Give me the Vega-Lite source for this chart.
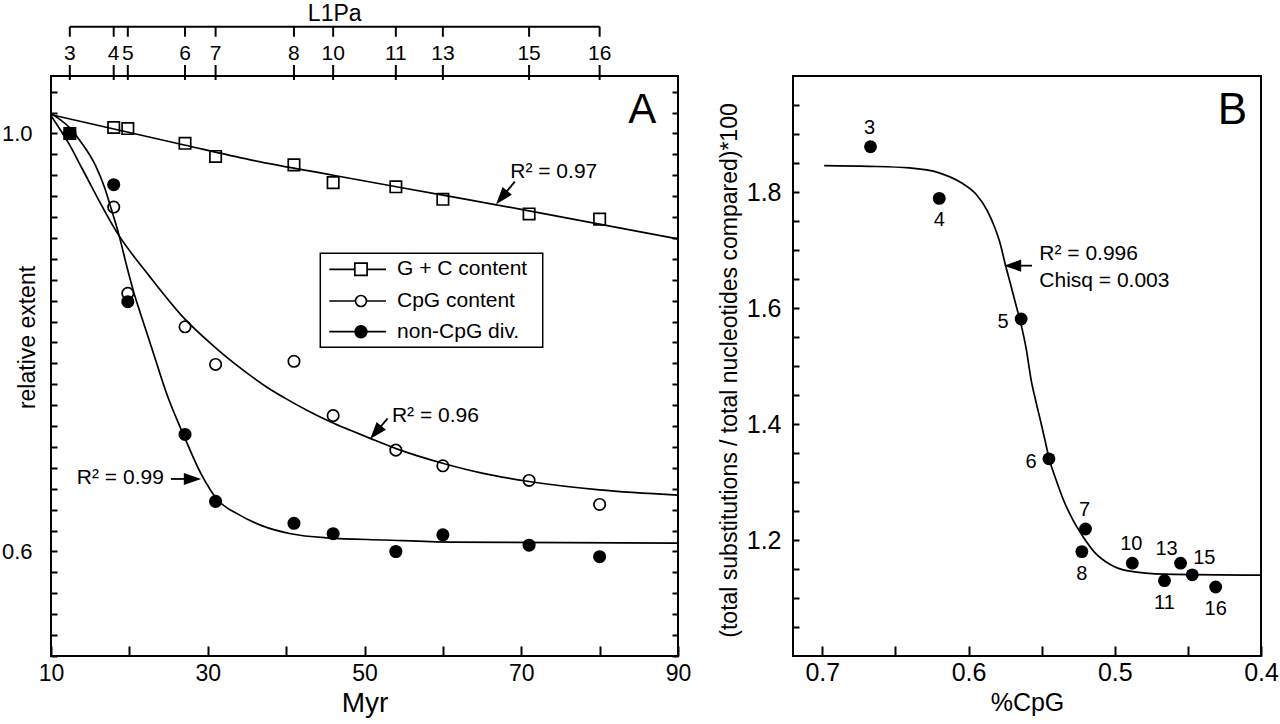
{
  "$schema": "https://vega.github.io/schema/vega-lite/v6.json",
  "background": "white",
  "padding": {"left": 0, "top": 2, "right": 0, "bottom": 0},
  "config": {
    "font": "Liberation Sans, Arial, sans-serif",
    "view": {"stroke": "black", "strokeWidth": 2},
    "axis": {
      "domain": false, "grid": false, "tickColor": "black", "tickWidth": 2, "tickCount": 100,
      "labelColor": "black", "titleColor": "black", "titleFontWeight": "normal",
      "labelFlush": false, "labelOverlap": false
    },
    "text": {"color": "black"}
  },
  "datasets": {
    "ptsA": [
      {"series": "G + C content", "myr": 12.4, "value": 1.0},
      {"series": "G + C content", "myr": 18.0, "value": 1.0057},
      {"series": "G + C content", "myr": 19.8, "value": 1.0047},
      {"series": "G + C content", "myr": 27.1, "value": 0.9906},
      {"series": "G + C content", "myr": 31.0, "value": 0.978},
      {"series": "G + C content", "myr": 41.0, "value": 0.970},
      {"series": "G + C content", "myr": 46.0, "value": 0.953},
      {"series": "G + C content", "myr": 54.0, "value": 0.949},
      {"series": "G + C content", "myr": 60.0, "value": 0.937},
      {"series": "G + C content", "myr": 71.0, "value": 0.923},
      {"series": "G + C content", "myr": 80.0, "value": 0.918},
      {"series": "CpG content", "myr": 12.4, "value": 1.0},
      {"series": "CpG content", "myr": 18.0, "value": 0.9296},
      {"series": "CpG content", "myr": 19.8, "value": 0.847},
      {"series": "CpG content", "myr": 27.1, "value": 0.815},
      {"series": "CpG content", "myr": 31.0, "value": 0.779},
      {"series": "CpG content", "myr": 41.0, "value": 0.782},
      {"series": "CpG content", "myr": 46.0, "value": 0.730},
      {"series": "CpG content", "myr": 54.0, "value": 0.697},
      {"series": "CpG content", "myr": 60.0, "value": 0.682},
      {"series": "CpG content", "myr": 71.0, "value": 0.668},
      {"series": "CpG content", "myr": 80.0, "value": 0.645},
      {"series": "non-CpG div.", "myr": 12.4, "value": 1.0},
      {"series": "non-CpG div.", "myr": 18.0, "value": 0.951},
      {"series": "non-CpG div.", "myr": 19.8, "value": 0.839},
      {"series": "non-CpG div.", "myr": 27.1, "value": 0.712},
      {"series": "non-CpG div.", "myr": 31.0, "value": 0.648},
      {"series": "non-CpG div.", "myr": 41.0, "value": 0.627},
      {"series": "non-CpG div.", "myr": 46.0, "value": 0.617},
      {"series": "non-CpG div.", "myr": 54.0, "value": 0.600},
      {"series": "non-CpG div.", "myr": 60.0, "value": 0.616},
      {"series": "non-CpG div.", "myr": 71.0, "value": 0.606},
      {"series": "non-CpG div.", "myr": 80.0, "value": 0.595}
    ],
    "fitA": [
      {"series": "G + C content", "myr": 10.0, "value": 1.018},
      {"series": "G + C content", "myr": 27.0, "value": 0.989},
      {"series": "G + C content", "myr": 35.3, "value": 0.975},
      {"series": "G + C content", "myr": 46.0, "value": 0.960},
      {"series": "G + C content", "myr": 60.0, "value": 0.941},
      {"series": "G + C content", "myr": 71.0, "value": 0.926},
      {"series": "G + C content", "myr": 90.0, "value": 0.899},
      {"series": "CpG content", "myr": 10.0, "value": 1.017},
      {"series": "CpG content", "myr": 12.3, "value": 0.990},
      {"series": "CpG content", "myr": 14.0, "value": 0.966},
      {"series": "CpG content", "myr": 18.7, "value": 0.902},
      {"series": "CpG content", "myr": 22.5, "value": 0.864},
      {"series": "CpG content", "myr": 27.0, "value": 0.823},
      {"series": "CpG content", "myr": 31.3, "value": 0.793},
      {"series": "CpG content", "myr": 33.4, "value": 0.780},
      {"series": "CpG content", "myr": 35.5, "value": 0.768},
      {"series": "CpG content", "myr": 37.6, "value": 0.757},
      {"series": "CpG content", "myr": 39.8, "value": 0.747},
      {"series": "CpG content", "myr": 42.7, "value": 0.735},
      {"series": "CpG content", "myr": 45.7, "value": 0.724},
      {"series": "CpG content", "myr": 48.2, "value": 0.716},
      {"series": "CpG content", "myr": 50.8, "value": 0.708},
      {"series": "CpG content", "myr": 54.2, "value": 0.698},
      {"series": "CpG content", "myr": 60.2, "value": 0.684},
      {"series": "CpG content", "myr": 65.0, "value": 0.675},
      {"series": "CpG content", "myr": 71.0, "value": 0.667},
      {"series": "CpG content", "myr": 80.0, "value": 0.659},
      {"series": "CpG content", "myr": 90.0, "value": 0.654},
      {"series": "non-CpG div.", "myr": 10.0, "value": 1.019},
      {"series": "non-CpG div.", "myr": 12.3, "value": 1.006},
      {"series": "non-CpG div.", "myr": 14.0, "value": 0.990},
      {"series": "non-CpG div.", "myr": 15.7, "value": 0.969},
      {"series": "non-CpG div.", "myr": 16.8, "value": 0.949},
      {"series": "non-CpG div.", "myr": 17.6, "value": 0.930},
      {"series": "non-CpG div.", "myr": 18.7, "value": 0.902},
      {"series": "non-CpG div.", "myr": 19.7, "value": 0.872},
      {"series": "non-CpG div.", "myr": 20.6, "value": 0.847},
      {"series": "non-CpG div.", "myr": 21.4, "value": 0.828},
      {"series": "non-CpG div.", "myr": 22.8, "value": 0.796},
      {"series": "non-CpG div.", "myr": 24.9, "value": 0.748},
      {"series": "non-CpG div.", "myr": 27.0, "value": 0.710},
      {"series": "non-CpG div.", "myr": 29.1, "value": 0.675},
      {"series": "non-CpG div.", "myr": 31.3, "value": 0.649},
      {"series": "non-CpG div.", "myr": 33.8, "value": 0.636},
      {"series": "non-CpG div.", "myr": 36.8, "value": 0.625},
      {"series": "non-CpG div.", "myr": 40.6, "value": 0.617},
      {"series": "non-CpG div.", "myr": 45.3, "value": 0.613},
      {"series": "non-CpG div.", "myr": 52.5, "value": 0.611},
      {"series": "non-CpG div.", "myr": 61.0, "value": 0.609},
      {"series": "non-CpG div.", "myr": 90.0, "value": 0.608}
    ],
    "legendA": [
      {"series": "G + C content"},
      {"series": "CpG content"},
      {"series": "non-CpG div."}
    ],
    "l1pa": [
      {"l1pa": "3", "myr": 12.4},
      {"l1pa": "4", "myr": 18.0},
      {"l1pa": "5", "myr": 19.8},
      {"l1pa": "6", "myr": 27.1},
      {"l1pa": "7", "myr": 31.0},
      {"l1pa": "8", "myr": 41.0},
      {"l1pa": "10", "myr": 46.0},
      {"l1pa": "11", "myr": 54.0},
      {"l1pa": "13", "myr": 60.0},
      {"l1pa": "15", "myr": 71.0},
      {"l1pa": "16", "myr": 80.0}
    ],
    "notes": [
      {"note": "L1Pa"},
      {"note": "A"},
      {"note": "R² = 0.97"},
      {"note": "R² = 0.96"},
      {"note": "R² = 0.99"},
      {"note": "B"},
      {"note": "R² = 0.996"},
      {"note": "Chisq = 0.003"}
    ],
    "ptsB": [
      {"label": "3", "pcpg": 0.667, "subs": 1.878},
      {"label": "4", "pcpg": 0.620, "subs": 1.789},
      {"label": "5", "pcpg": 0.564, "subs": 1.581},
      {"label": "6", "pcpg": 0.545, "subs": 1.340},
      {"label": "7", "pcpg": 0.520, "subs": 1.219},
      {"label": "8", "pcpg": 0.5225, "subs": 1.180},
      {"label": "10", "pcpg": 0.488, "subs": 1.160},
      {"label": "11", "pcpg": 0.466, "subs": 1.130},
      {"label": "13", "pcpg": 0.455, "subs": 1.160},
      {"label": "15", "pcpg": 0.447, "subs": 1.140},
      {"label": "16", "pcpg": 0.431, "subs": 1.119}
    ],
    "fitB": [
      {"pcpg": 0.6987, "subs": 1.8455},
      {"pcpg": 0.6683, "subs": 1.8443},
      {"pcpg": 0.6404, "subs": 1.8415},
      {"pcpg": 0.6201, "subs": 1.8330},
      {"pcpg": 0.6049, "subs": 1.8159},
      {"pcpg": 0.5948, "subs": 1.7960},
      {"pcpg": 0.5871, "subs": 1.7676},
      {"pcpg": 0.5821, "subs": 1.7392},
      {"pcpg": 0.5783, "subs": 1.7108},
      {"pcpg": 0.5750, "subs": 1.6767},
      {"pcpg": 0.5714, "subs": 1.6426},
      {"pcpg": 0.5679, "subs": 1.6085},
      {"pcpg": 0.5643, "subs": 1.5744},
      {"pcpg": 0.5605, "subs": 1.5290},
      {"pcpg": 0.5572, "subs": 1.4762},
      {"pcpg": 0.5542, "subs": 1.4418},
      {"pcpg": 0.5504, "subs": 1.4017},
      {"pcpg": 0.5478, "subs": 1.3731},
      {"pcpg": 0.5448, "subs": 1.3398},
      {"pcpg": 0.5402, "subs": 1.3043},
      {"pcpg": 0.5352, "subs": 1.2699},
      {"pcpg": 0.5288, "subs": 1.2355},
      {"pcpg": 0.5212, "subs": 1.2040},
      {"pcpg": 0.5136, "subs": 1.1782},
      {"pcpg": 0.5034, "subs": 1.1582},
      {"pcpg": 0.4908, "subs": 1.1467},
      {"pcpg": 0.4654, "subs": 1.1410},
      {"pcpg": 0.4000, "subs": 1.1393}
    ]
  },
  "hconcat": [
    {
      "width": 627,
      "height": 580,
      "layer": [
        {
          "data": {"name": "fitA"},
          "mark": {"type": "line", "color": "black", "strokeWidth": 1.7, "interpolate": "monotone"},
          "encoding": {
            "x": {
              "field": "myr", "type": "quantitative",
              "scale": {"domain": [10, 90], "nice": false, "zero": false},
              "axis": {
                "orient": "bottom",
                "values": [10, 20, 30, 40, 50, 60, 70, 80, 90],
                "labelExpr": "datum.value % 20 == 10 ? datum.label : ''",
                "tickSize": -10, "labelPadding": 34.5, "labelBaseline": "alphabetic",
                "labelFontSize": 23,
                "title": "Myr", "titleFontSize": 28, "titleBaseline": "alphabetic", "titleY": 55
              }
            },
            "y": {
              "field": "value", "type": "quantitative",
              "scale": {"domain": [0.5, 1.055], "nice": false, "zero": false},
              "axis": {
                "orient": "left",
                "values": [0.5, 0.52, 0.54, 0.56, 0.58, 0.6, 0.62, 0.64, 0.66, 0.68, 0.7, 0.72, 0.74, 0.76, 0.78, 0.8, 0.82, 0.84, 0.86, 0.88, 0.9, 0.92, 0.94, 0.96, 0.98, 1, 1.02, 1.04],
                "labelExpr": "datum.value == 1 || datum.value == 0.6 ? format(datum.value, '.1f') : ''",
                "tickSize": -6, "labelPadding": 25, "labelFontSize": 22,
                "title": "relative extent", "titleFontSize": 23, "titleAngle": -90,
                "titleX": -17, "titleY": 261, "titleAlign": "center", "titleBaseline": "alphabetic"
              }
            },
            "detail": {"field": "series"}
          }
        },
        {
          "data": {"name": "ptsA"},
          "mark": {"type": "point", "filled": true, "stroke": "black", "strokeWidth": 1.7, "size": 130, "opacity": 1},
          "encoding": {
            "x": {"field": "myr", "type": "quantitative"},
            "y": {
              "field": "value", "type": "quantitative",
              "axis": {
                "orient": "right",
                "values": [0.5, 0.52, 0.54, 0.56, 0.58, 0.6, 0.62, 0.64, 0.66, 0.68, 0.7, 0.72, 0.74, 0.76, 0.78, 0.8, 0.82, 0.84, 0.86, 0.88, 0.9, 0.92, 0.94, 0.96, 0.98, 1, 1.02, 1.04],
                "labels": false, "tickSize": -6, "title": null
              }
            },
            "shape": {
              "field": "series", "type": "nominal",
              "scale": {"domain": ["G + C content", "CpG content", "non-CpG div."], "range": ["square", "circle", "circle"]},
              "legend": null
            },
            "fill": {
              "field": "series", "type": "nominal",
              "scale": {"domain": ["G + C content", "CpG content", "non-CpG div."], "range": ["rgba(255,255,255,0)", "rgba(255,255,255,0)", "black"]},
              "legend": null
            }
          }
        },
        {
          "data": {"name": "legendA"},
          "transform": [{"filter": "datum.series == 'G + C content'"}],
          "mark": {"type": "rect", "fill": "white", "stroke": "black", "strokeWidth": 1.5},
          "encoding": {
            "x": {"datum": 44.36, "type": "quantitative"},
            "x2": {"datum": 72.74},
            "y": {"datum": 0.8853, "type": "quantitative", "axis": null},
            "y2": {"datum": 0.7954}
          }
        },
        {
          "data": {"name": "legendA"},
          "transform": [{"filter": "datum.series == 'G + C content'"}],
          "mark": {"type": "rule", "color": "black", "strokeWidth": 1.7},
          "encoding": {
            "x": {"datum": 45.51, "type": "quantitative"},
            "x2": {"datum": 52.74},
            "y": {"datum": 0.8700, "type": "quantitative", "axis": null}
          }
        },
        {
          "data": {"name": "legendA"},
          "transform": [{"filter": "datum.series == 'CpG content'"}],
          "mark": {"type": "rule", "color": "black", "strokeWidth": 1.7},
          "encoding": {
            "x": {"datum": 45.51, "type": "quantitative"},
            "x2": {"datum": 52.74},
            "y": {"datum": 0.8397, "type": "quantitative", "axis": null}
          }
        },
        {
          "data": {"name": "legendA"},
          "transform": [{"filter": "datum.series == 'non-CpG div.'"}],
          "mark": {"type": "rule", "color": "black", "strokeWidth": 1.7},
          "encoding": {
            "x": {"datum": 45.51, "type": "quantitative"},
            "x2": {"datum": 52.74},
            "y": {"datum": 0.8103, "type": "quantitative", "axis": null}
          }
        },
        {
          "data": {"name": "legendA"},
          "transform": [{"filter": "datum.series == 'G + C content'"}],
          "mark": {"type": "point", "shape": "square", "filled": true, "fill": "white", "stroke": "black", "strokeWidth": 1.7, "size": 150, "opacity": 1},
          "encoding": {
            "x": {"datum": 49.55, "type": "quantitative"},
            "y": {"datum": 0.8700, "type": "quantitative", "axis": null}
          }
        },
        {
          "data": {"name": "legendA"},
          "transform": [{"filter": "datum.series == 'CpG content'"}],
          "mark": {"type": "point", "shape": "circle", "filled": true, "fill": "white", "stroke": "black", "strokeWidth": 1.7, "size": 120, "opacity": 1},
          "encoding": {
            "x": {"datum": 49.55, "type": "quantitative"},
            "y": {"datum": 0.8397, "type": "quantitative", "axis": null}
          }
        },
        {
          "data": {"name": "legendA"},
          "transform": [{"filter": "datum.series == 'non-CpG div.'"}],
          "mark": {"type": "point", "shape": "circle", "filled": true, "fill": "black", "stroke": "black", "strokeWidth": 1.7, "size": 140, "opacity": 1},
          "encoding": {
            "x": {"datum": 49.55, "type": "quantitative"},
            "y": {"datum": 0.8103, "type": "quantitative", "axis": null}
          }
        },
        {
          "data": {"name": "legendA"},
          "transform": [{"filter": "datum.series == 'G + C content'"}],
          "mark": {"type": "text", "fontSize": 21, "baseline": "middle", "align": "left"},
          "encoding": {
            "x": {"datum": 54.15, "type": "quantitative"},
            "y": {"datum": 0.8700, "type": "quantitative", "axis": null},
            "text": {"field": "series"}
          }
        },
        {
          "data": {"name": "legendA"},
          "transform": [{"filter": "datum.series == 'CpG content'"}],
          "mark": {"type": "text", "fontSize": 21, "baseline": "middle", "align": "left"},
          "encoding": {
            "x": {"datum": 54.15, "type": "quantitative"},
            "y": {"datum": 0.8397, "type": "quantitative", "axis": null},
            "text": {"field": "series"}
          }
        },
        {
          "data": {"name": "legendA"},
          "transform": [{"filter": "datum.series == 'non-CpG div.'"}],
          "mark": {"type": "text", "fontSize": 21, "baseline": "middle", "align": "left"},
          "encoding": {
            "x": {"datum": 54.15, "type": "quantitative"},
            "y": {"datum": 0.8103, "type": "quantitative", "axis": null},
            "text": {"field": "series"}
          }
        },
        {
          "data": {"name": "l1pa"},
          "mark": {"type": "rule", "color": "black", "strokeWidth": 2},
          "encoding": {
            "x": {"field": "myr", "type": "quantitative"},
            "y": {"datum": 1.0512, "type": "quantitative", "axis": null},
            "y2": {"datum": 1.0655}
          }
        },
        {
          "data": {"name": "l1pa"},
          "mark": {"type": "rule", "color": "black", "strokeWidth": 2},
          "encoding": {
            "x": {"field": "myr", "type": "quantitative"},
            "y": {"datum": 1.0926, "type": "quantitative", "axis": null},
            "y2": {"datum": 1.1022}
          }
        },
        {
          "data": {"name": "notes"},
          "transform": [{"filter": "datum.note == 'L1Pa'"}],
          "mark": {"type": "rule", "color": "black", "strokeWidth": 2},
          "encoding": {
            "x": {"datum": 12.4, "type": "quantitative"},
            "x2": {"datum": 80},
            "y": {"datum": 1.1022, "type": "quantitative", "axis": null}
          }
        },
        {
          "data": {"name": "l1pa"},
          "mark": {"type": "text", "fontSize": 21, "baseline": "middle", "align": "center"},
          "encoding": {
            "x": {"field": "myr", "type": "quantitative"},
            "y": {"datum": 1.0759, "type": "quantitative", "axis": null},
            "text": {"field": "l1pa"}
          }
        },
        {
          "data": {"name": "notes"},
          "transform": [{"filter": "datum.note == 'L1Pa'"}],
          "mark": {"type": "text", "fontSize": 23, "baseline": "middle", "align": "center"},
          "encoding": {
            "x": {"datum": 46.2, "type": "quantitative"},
            "y": {"datum": 1.1141, "type": "quantitative", "axis": null},
            "text": {"field": "note"}
          }
        },
        {
          "data": {"name": "notes"},
          "transform": [{"filter": "datum.note == 'A'"}],
          "mark": {"type": "text", "fontSize": 42, "baseline": "middle", "align": "center"},
          "encoding": {
            "x": {"datum": 85.45, "type": "quantitative"},
            "y": {"datum": 1.0225, "type": "quantitative", "axis": null},
            "text": {"field": "note"}
          }
        },
        {
          "data": {"name": "notes"},
          "transform": [{"filter": "datum.note == 'R² = 0.97'"}],
          "mark": {"type": "text", "fontSize": 21, "baseline": "middle", "align": "left"},
          "encoding": {
            "x": {"datum": 68.6, "type": "quantitative"},
            "y": {"datum": 0.963, "type": "quantitative", "axis": null},
            "text": {"field": "note"}
          }
        },
        {
          "data": {"name": "notes"},
          "transform": [{"filter": "datum.note == 'R² = 0.96'"}],
          "mark": {"type": "text", "fontSize": 21, "baseline": "middle", "align": "left"},
          "encoding": {
            "x": {"datum": 53.5, "type": "quantitative"},
            "y": {"datum": 0.7297, "type": "quantitative", "axis": null},
            "text": {"field": "note"}
          }
        },
        {
          "data": {"name": "notes"},
          "transform": [{"filter": "datum.note == 'R² = 0.99'"}],
          "mark": {"type": "text", "fontSize": 21, "baseline": "middle", "align": "left"},
          "encoding": {
            "x": {"datum": 13.3, "type": "quantitative"},
            "y": {"datum": 0.670, "type": "quantitative", "axis": null},
            "text": {"field": "note"}
          }
        },
        {
          "data": {"name": "notes"},
          "transform": [{"filter": "datum.note == 'R² = 0.97'"}],
          "mark": {"type": "rule", "color": "black", "strokeWidth": 1.8},
          "encoding": {
            "x": {"datum": 69.18, "type": "quantitative"},
            "x2": {"datum": 67.5},
            "y": {"datum": 0.9539, "type": "quantitative", "axis": null},
            "y2": {"datum": 0.9387}
          }
        },
        {
          "data": {"name": "notes"},
          "transform": [{"filter": "datum.note == 'R² = 0.96'"}],
          "mark": {"type": "rule", "color": "black", "strokeWidth": 1.8},
          "encoding": {
            "x": {"datum": 52.95, "type": "quantitative"},
            "x2": {"datum": 51.43},
            "y": {"datum": 0.7274, "type": "quantitative", "axis": null},
            "y2": {"datum": 0.7139}
          }
        },
        {
          "data": {"name": "notes"},
          "transform": [{"filter": "datum.note == 'R² = 0.99'"}],
          "mark": {"type": "rule", "color": "black", "strokeWidth": 1.8},
          "encoding": {
            "x": {"datum": 25.3, "type": "quantitative"},
            "x2": {"datum": 28.05},
            "y": {"datum": 0.6694, "type": "quantitative", "axis": null}
          }
        },
        {
          "data": {"name": "notes"},
          "transform": [{"filter": "datum.note == 'R² = 0.97'"}],
          "mark": {"type": "point", "shape": "M1,0L-1,-0.7L-1,0.7Z", "filled": true, "color": "black", "size": 300, "angle": 130, "opacity": 1},
          "encoding": {
            "x": {"datum": 67.5, "type": "quantitative"},
            "y": {"datum": 0.9387, "type": "quantitative", "axis": null}
          }
        },
        {
          "data": {"name": "notes"},
          "transform": [{"filter": "datum.note == 'R² = 0.96'"}],
          "mark": {"type": "point", "shape": "M1,0L-1,-0.7L-1,0.7Z", "filled": true, "color": "black", "size": 300, "angle": 130, "opacity": 1},
          "encoding": {
            "x": {"datum": 51.43, "type": "quantitative"},
            "y": {"datum": 0.7139, "type": "quantitative", "axis": null}
          }
        },
        {
          "data": {"name": "notes"},
          "transform": [{"filter": "datum.note == 'R² = 0.99'"}],
          "mark": {"type": "point", "shape": "M1,0L-1,-0.7L-1,0.7Z", "filled": true, "color": "black", "size": 300, "angle": 0, "opacity": 1},
          "encoding": {
            "x": {"datum": 28.05, "type": "quantitative"},
            "y": {"datum": 0.6694, "type": "quantitative", "axis": null}
          }
        }
      ],
      "resolve": {"axis": {"y": "independent"}}
    },
    {
      "width": 468,
      "height": 580,
      "layer": [
        {
          "data": {"name": "fitB"},
          "mark": {"type": "line", "color": "black", "strokeWidth": 1.7, "interpolate": "monotone"},
          "encoding": {
            "x": {
              "field": "pcpg", "type": "quantitative",
              "scale": {"domain": [0.4, 0.72], "reverse": true, "nice": false, "zero": false},
              "axis": {
                "orient": "bottom",
                "values": [0.4, 0.45, 0.5, 0.55, 0.6, 0.65, 0.7],
                "labelExpr": "indexof([0.4, 0.5, 0.6, 0.7], datum.value) >= 0 ? format(datum.value, '.1f') : ''",
                "tickSize": -10, "labelPadding": 34.5, "labelBaseline": "alphabetic",
                "labelFontSize": 25,
                "title": "%CpG", "titleFontSize": 25, "titleBaseline": "alphabetic", "titleY": 54
              }
            },
            "y": {
              "field": "subs", "type": "quantitative",
              "scale": {"domain": [1, 2], "nice": false, "zero": false},
              "axis": {
                "orient": "left",
                "values": [1.05, 1.1, 1.15, 1.2, 1.25, 1.3, 1.35, 1.4, 1.45, 1.5, 1.55, 1.6, 1.65, 1.7, 1.75, 1.8, 1.85, 1.9, 1.95],
                "labelExpr": "indexof([1.2, 1.4, 1.6, 1.8], datum.value) >= 0 ? format(datum.value, '.1f') : ''",
                "tickSize": -6, "labelPadding": 18, "labelFontSize": 25,
                "title": "(total substitutions / total nucleotides compared)*100",
                "titleFontSize": 23, "titleAngle": -90,
                "titleX": -57, "titleY": 294, "titleAlign": "center", "titleBaseline": "alphabetic"
              }
            },
            "order": {"field": "pcpg", "sort": "descending"}
          }
        },
        {
          "data": {"name": "ptsB"},
          "mark": {"type": "point", "shape": "circle", "filled": true, "color": "black", "size": 165, "opacity": 1},
          "encoding": {
            "x": {"field": "pcpg", "type": "quantitative"},
            "y": {"field": "subs", "type": "quantitative"}
          }
        },
        {
          "data": {"name": "ptsB"},
          "transform": [{"filter": "indexof(['3', '7', '10'], datum.label) >= 0"}],
          "mark": {"type": "text", "fontSize": 20, "baseline": "middle", "align": "center", "dy": -19, "dx": -1},
          "encoding": {
            "x": {"field": "pcpg", "type": "quantitative"},
            "y": {"field": "subs", "type": "quantitative"},
            "text": {"field": "label"}
          }
        },
        {
          "data": {"name": "ptsB"},
          "transform": [{"filter": "indexof(['4', '8', '11', '16'], datum.label) >= 0"}],
          "mark": {"type": "text", "fontSize": 20, "baseline": "middle", "align": "center", "dy": 22},
          "encoding": {
            "x": {"field": "pcpg", "type": "quantitative"},
            "y": {"field": "subs", "type": "quantitative"},
            "text": {"field": "label"}
          }
        },
        {
          "data": {"name": "ptsB"},
          "transform": [{"filter": "indexof(['5', '6'], datum.label) >= 0"}],
          "mark": {"type": "text", "fontSize": 20, "baseline": "middle", "align": "center", "dx": -18, "dy": 3},
          "encoding": {
            "x": {"field": "pcpg", "type": "quantitative"},
            "y": {"field": "subs", "type": "quantitative"},
            "text": {"field": "label"}
          }
        },
        {
          "data": {"name": "ptsB"},
          "transform": [{"filter": "datum.label == '13'"}],
          "mark": {"type": "text", "fontSize": 20, "baseline": "middle", "align": "center", "dx": -14, "dy": -14},
          "encoding": {
            "x": {"field": "pcpg", "type": "quantitative"},
            "y": {"field": "subs", "type": "quantitative"},
            "text": {"field": "label"}
          }
        },
        {
          "data": {"name": "ptsB"},
          "transform": [{"filter": "datum.label == '15'"}],
          "mark": {"type": "text", "fontSize": 20, "baseline": "middle", "align": "center", "dx": 12, "dy": -17},
          "encoding": {
            "x": {"field": "pcpg", "type": "quantitative"},
            "y": {"field": "subs", "type": "quantitative"},
            "text": {"field": "label"}
          }
        },
        {
          "data": {"name": "notes"},
          "transform": [{"filter": "datum.note == 'B'"}],
          "mark": {"type": "text", "fontSize": 44, "baseline": "middle", "align": "center"},
          "encoding": {
            "x": {"datum": 0.4195, "type": "quantitative"},
            "y": {"datum": 1.939, "type": "quantitative"},
            "text": {"field": "note"}
          }
        },
        {
          "data": {"name": "notes"},
          "transform": [{"filter": "datum.note == 'R² = 0.996'"}],
          "mark": {"type": "text", "fontSize": 21, "baseline": "middle", "align": "left"},
          "encoding": {
            "x": {"datum": 0.5516, "type": "quantitative"},
            "y": {"datum": 1.6924, "type": "quantitative"},
            "text": {"field": "note"}
          }
        },
        {
          "data": {"name": "notes"},
          "transform": [{"filter": "datum.note == 'Chisq = 0.003'"}],
          "mark": {"type": "text", "fontSize": 21, "baseline": "middle", "align": "left"},
          "encoding": {
            "x": {"datum": 0.5516, "type": "quantitative"},
            "y": {"datum": 1.6473, "type": "quantitative"},
            "text": {"field": "note"}
          }
        },
        {
          "data": {"name": "notes"},
          "transform": [{"filter": "datum.note == 'R² = 0.996'"}],
          "mark": {"type": "rule", "color": "black", "strokeWidth": 1.8},
          "encoding": {
            "x": {"datum": 0.5566, "type": "quantitative"},
            "x2": {"datum": 0.5699},
            "y": {"datum": 1.673, "type": "quantitative"}
          }
        },
        {
          "data": {"name": "notes"},
          "transform": [{"filter": "datum.note == 'R² = 0.996'"}],
          "mark": {"type": "point", "shape": "M1,0L-1,-0.7L-1,0.7Z", "filled": true, "color": "black", "size": 300, "angle": 180, "opacity": 1},
          "encoding": {
            "x": {"datum": 0.5699, "type": "quantitative"},
            "y": {"datum": 1.673, "type": "quantitative"}
          }
        }
      ]
    }
  ],
  "bounds": "flush",
  "spacing": 115
}
